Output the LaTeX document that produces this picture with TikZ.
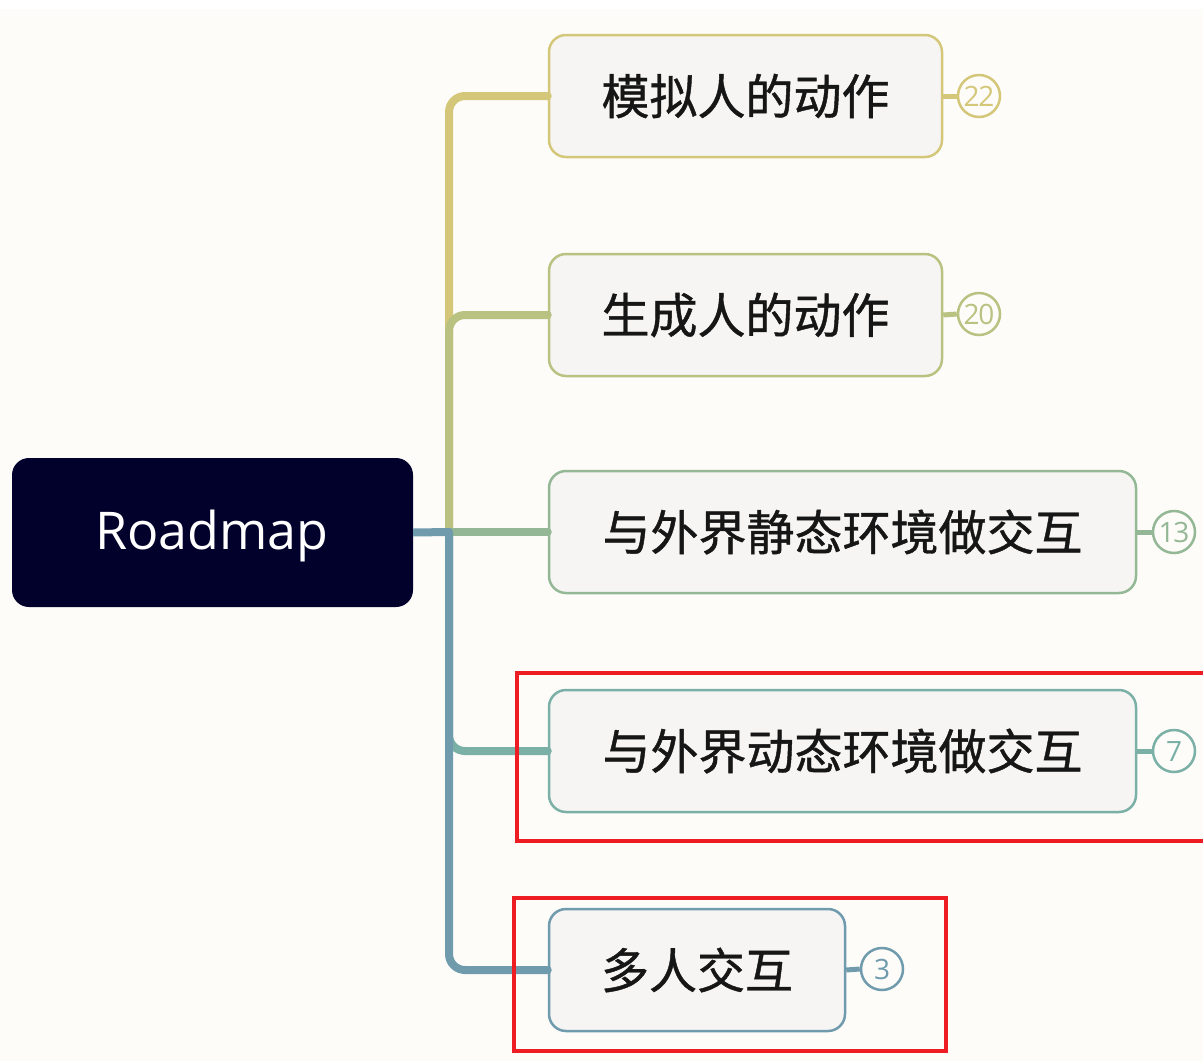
\documentclass[tikz,border=0pt]{standalone}
\usepackage{fontspec}
\setmainfont{Open Sans}
\newfontfamily\cjkfont[FakeBold=0.9]{Noto Sans CJK SC}
\newfontfamily\latinfont{Open Sans}
\newfontfamily\badgefont[LetterSpace=-4]{Open Sans}
\definecolor{bg}{HTML}{FDFCF9}
\definecolor{boxfill}{HTML}{F6F5F4}
\definecolor{rootfill}{HTML}{02012B}
\definecolor{txt}{HTML}{161616}
\definecolor{cA}{HTML}{D5C77A}
\definecolor{cB}{HTML}{BAC281}
\definecolor{cC}{HTML}{94B896}
\definecolor{cD}{HTML}{7BB0A6}
\definecolor{cE}{HTML}{6F9BAD}
\definecolor{mark}{HTML}{EE1C23}
\begin{document}
\begin{tikzpicture}[x=1pt,y=-1pt,
  topic/.style={draw, line width=2.5pt, fill=boxfill, rounded corners=17pt,
    minimum height=122pt, inner sep=0pt, text=txt,
    font=\cjkfont\fontsize{48}{58}\selectfont},
  badge/.style={circle, draw, line width=2.5pt, fill=bg, minimum size=42pt,
    inner sep=0pt, font=\badgefont\fontsize{28}{32}\selectfont},
  branch/.style={line width=8pt, line cap=round, rounded corners=16pt},
  stub/.style={line width=5pt},
  redbox/.style={draw=mark, line width=4pt}]
\useasboundingbox (0,0) rectangle (1203,1061);
\fill[white] (0,0) rectangle (1203,9);
\fill[bg] (0,9) rectangle (1203,1061);

% root
\node[fill=rootfill, rounded corners=17pt, minimum width=401pt, minimum height=149pt,
  inner sep=0pt] (root) at (212.5,532.5) {};
\node[text=white, font=\latinfont\fontsize{52}{60}\selectfont, inner sep=0pt]
  (roottext) at (212,536) {Roadmap};

% topics
\node[topic, draw=cA, minimum width=393pt] (b1) at (745.5,96) {模拟人的动作};
\node[topic, draw=cB, minimum width=393pt] (b2) at (745.5,315) {生成人的动作};
\node[topic, draw=cC, minimum width=587pt] (b3) at (842.5,532) {与外界静态环境做交互};
\node[topic, draw=cD, minimum width=587pt] (b4) at (842.5,751) {与外界动态环境做交互};
\node[topic, draw=cE, minimum width=296pt] (b5) at (697,970) {多人交互};

% badges
\node[badge, draw=cA, text=cA] (n1) at (979,96) {22};
\node[badge, draw=cB, text=cB] (n2) at (979,314) {20};
\node[badge, draw=cC, text=cC] (n3) at (1174,532) {13};
\node[badge, draw=cD, text=cD] (n4) at (1174,751) {7};
\node[badge, draw=cE, text=cE] (n5) at (882,969) {3};

\draw[stub, cA] (b1.east) -- (n1.west);
\draw[stub, cB] (b2.east) -- (n2.west);
\draw[stub, cC] (b3.east) -- (n3.west);
\draw[stub, cD] (b4.east) -- (n4.west);
\draw[stub, cE] (b5.east) -- (n5.west);

% connectors
\coordinate (j) at (449,532);
\draw[branch, cA] (j) |- (b1.west);
\draw[branch, cB] (j) |- (b2.west);
\draw[branch, cC] (j) -- (b3.west);
\draw[branch, cD] (j) |- (b4.west);
\draw[branch, cE] (j) |- (b5.west);
\draw[line width=8pt, cE] (root.east) -- (j);

% highlight frames
\draw[redbox] (516.5,673) rectangle (1210,841);
\draw[redbox] (514,898) rectangle (946,1051);
\end{tikzpicture}
\end{document}
